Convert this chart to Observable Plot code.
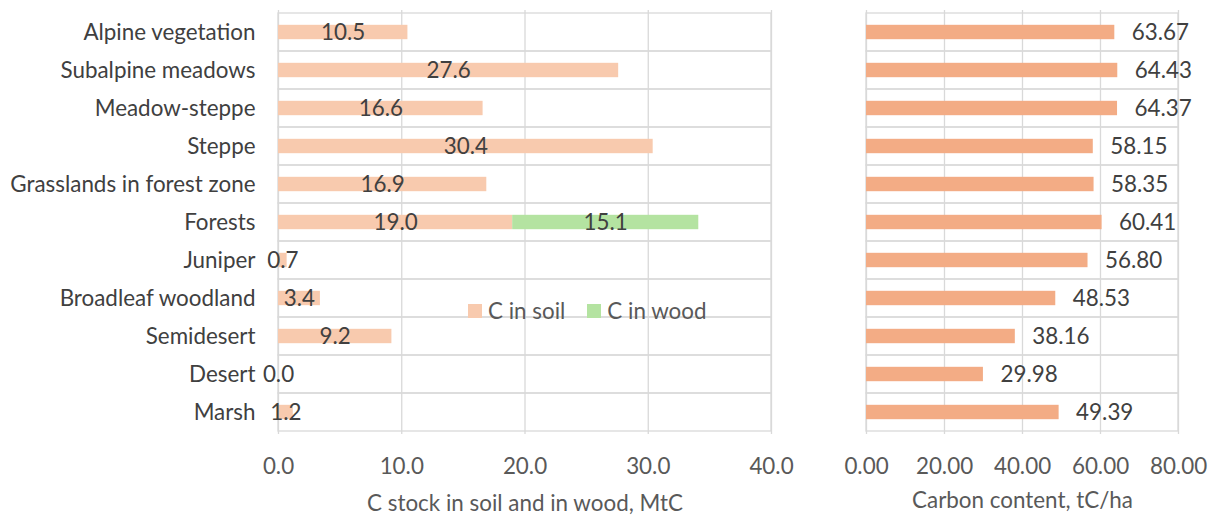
<!DOCTYPE html>
<html>
<head>
<meta charset="utf-8">
<script src="https://cdn.jsdelivr.net/npm/d3@7"></script>
<script src="https://cdn.jsdelivr.net/npm/@observablehq/plot@0.6"></script>
<style>
  html, body { margin: 0; padding: 0; background: #fff; }
  #wrap { position: relative; width: 1215px; height: 516px; font-family: Lato, "Open Sans", sans-serif; }
  #left, #right { position: absolute; top: 0; }
  #left { left: 0; }
  #right { left: 810px; }
  #legend { position: absolute; left: 468px; top: 297px; display: flex; align-items: center; font-size: 22.4px; line-height: 27px; color: #595959; }
  #legend .sw { display: inline-block; width: 14px; height: 14px; margin-right: 6px; }
  #legend .item { display: flex; align-items: center; margin-right: 22px; }
</style>
</head>
<body>
<div id="wrap">
  <div id="left"></div>
  <div id="right"></div>
  <div id="legend"></div>
</div>
<script>
const categories = ["Alpine vegetation", "Subalpine meadows", "Meadow-steppe", "Steppe",
  "Grasslands in forest zone", "Forests", "Juniper", "Broadleaf woodland",
  "Semidesert", "Desert", "Marsh"];
const soilC = [10.5, 27.6, 16.6, 30.4, 16.9, 19.0, 0.7, 3.4, 9.2, 0.0, 1.2];
const woodC = [null, null, null, null, null, 15.1, null, null, null, null, null];
const carbonContent = [63.67, 64.43, 64.37, 58.15, 58.35, 60.41, 56.80, 48.53, 38.16, 29.98, 49.39];
const seriesNames = ["C in soil", "C in wood"];
const seriesColors = ["#F8CAAE", "#B4E3A1"];
const contentColor = "#F3AC85";
const leftTicks = [0, 10, 20, 30, 40];
const rightTicks = [0, 20, 40, 60, 80];
const leftTitle = "C stock in soil and in wood, MtC";
const rightTitle = "Carbon content, tC/ha";

const stockTable = [];
categories.forEach((c, i) => {
  stockTable.push({cat: c, series: seriesNames[0], value: soilC[i]});
  if (woodC[i] != null) stockTable.push({cat: c, series: seriesNames[1], value: woodC[i]});
});
const contentTable = categories.map((c, i) => ({cat: c, value: carbonContent[i]}));

const gridColor = "#D9D9D9";
const textColor = "#404040";
const tickColor = "#595959";
const fs = 22.4;
const barInset = 11.8;
const font = 'Lato, "Open Sans", sans-serif';

const left = Plot.plot({
  width: 810, height: 516,
  marginLeft: 278, marginRight: 39, marginTop: 10, marginBottom: 82,
  style: {fontFamily: font, fontSize: fs + "px", color: tickColor, background: "transparent"},
  x: {domain: [leftTicks[0], leftTicks[leftTicks.length - 1]]},
  y: {domain: categories, padding: 0},
  color: {domain: seriesNames, range: seriesColors},
  marks: [
    Plot.gridX(leftTicks, {stroke: gridColor, strokeOpacity: 1, strokeWidth: 1.3}),
    Plot.barX(categories, {y: d => d, x1: leftTicks[0], x2: leftTicks[leftTicks.length - 1], fill: "none", stroke: gridColor, strokeWidth: 1.3}),
    Plot.barX(stockTable, Plot.stackX({x: "value", y: "cat", fill: "series", insetTop: barInset, insetBottom: barInset})),
    Plot.text(stockTable, Plot.stackX({x: "value", y: "cat", text: d => d.value.toFixed(1), fill: textColor, fontSize: fs})),
    Plot.axisY({tickSize: 0, tickPadding: 23, label: null, fill: textColor, fontSize: fs}),
    Plot.axisX(leftTicks, {tickSize: 0, tickPadding: 24, tickFormat: d3.format(".1f"), label: null, fill: tickColor, fontSize: fs}),
    Plot.text([leftTitle], {frameAnchor: "bottom", text: d => d, dy: 76, fill: tickColor, fontSize: fs, lineAnchor: "bottom"})
  ]
});
document.getElementById("left").appendChild(left);

const right = Plot.plot({
  width: 405, height: 516,
  marginLeft: 56, marginRight: 37, marginTop: 10, marginBottom: 82,
  style: {fontFamily: font, fontSize: fs + "px", color: tickColor, background: "transparent"},
  x: {domain: [rightTicks[0], rightTicks[rightTicks.length - 1]]},
  y: {domain: categories, padding: 0, axis: null},
  marks: [
    Plot.gridX(rightTicks, {stroke: gridColor, strokeOpacity: 1, strokeWidth: 1.3}),
    Plot.barX(categories, {y: d => d, x1: rightTicks[0], x2: rightTicks[rightTicks.length - 1], fill: "none", stroke: gridColor, strokeWidth: 1.3}),
    Plot.barX(contentTable, {x: "value", y: "cat", fill: contentColor, insetTop: barInset, insetBottom: barInset}),
    Plot.text(contentTable, {x: "value", y: "cat", text: d => d.value.toFixed(2), textAnchor: "start", dx: 17, fill: textColor, fontSize: fs}),
    Plot.axisX(rightTicks, {tickSize: 0, tickPadding: 24, tickFormat: d3.format(".2f"), label: null, fill: tickColor, fontSize: fs}),
    Plot.text([rightTitle], {frameAnchor: "bottom", text: d => d, dy: 73, fill: tickColor, fontSize: fs, lineAnchor: "bottom"})
  ]
});
document.getElementById("right").appendChild(right);

const legend = document.getElementById("legend");
seriesNames.forEach((s, i) => {
  const item = document.createElement("span");
  item.className = "item";
  const sw = document.createElement("span");
  sw.className = "sw";
  sw.style.background = seriesColors[i];
  item.appendChild(sw);
  item.appendChild(document.createTextNode(s));
  legend.appendChild(item);
});
</script>
</body>
</html>
